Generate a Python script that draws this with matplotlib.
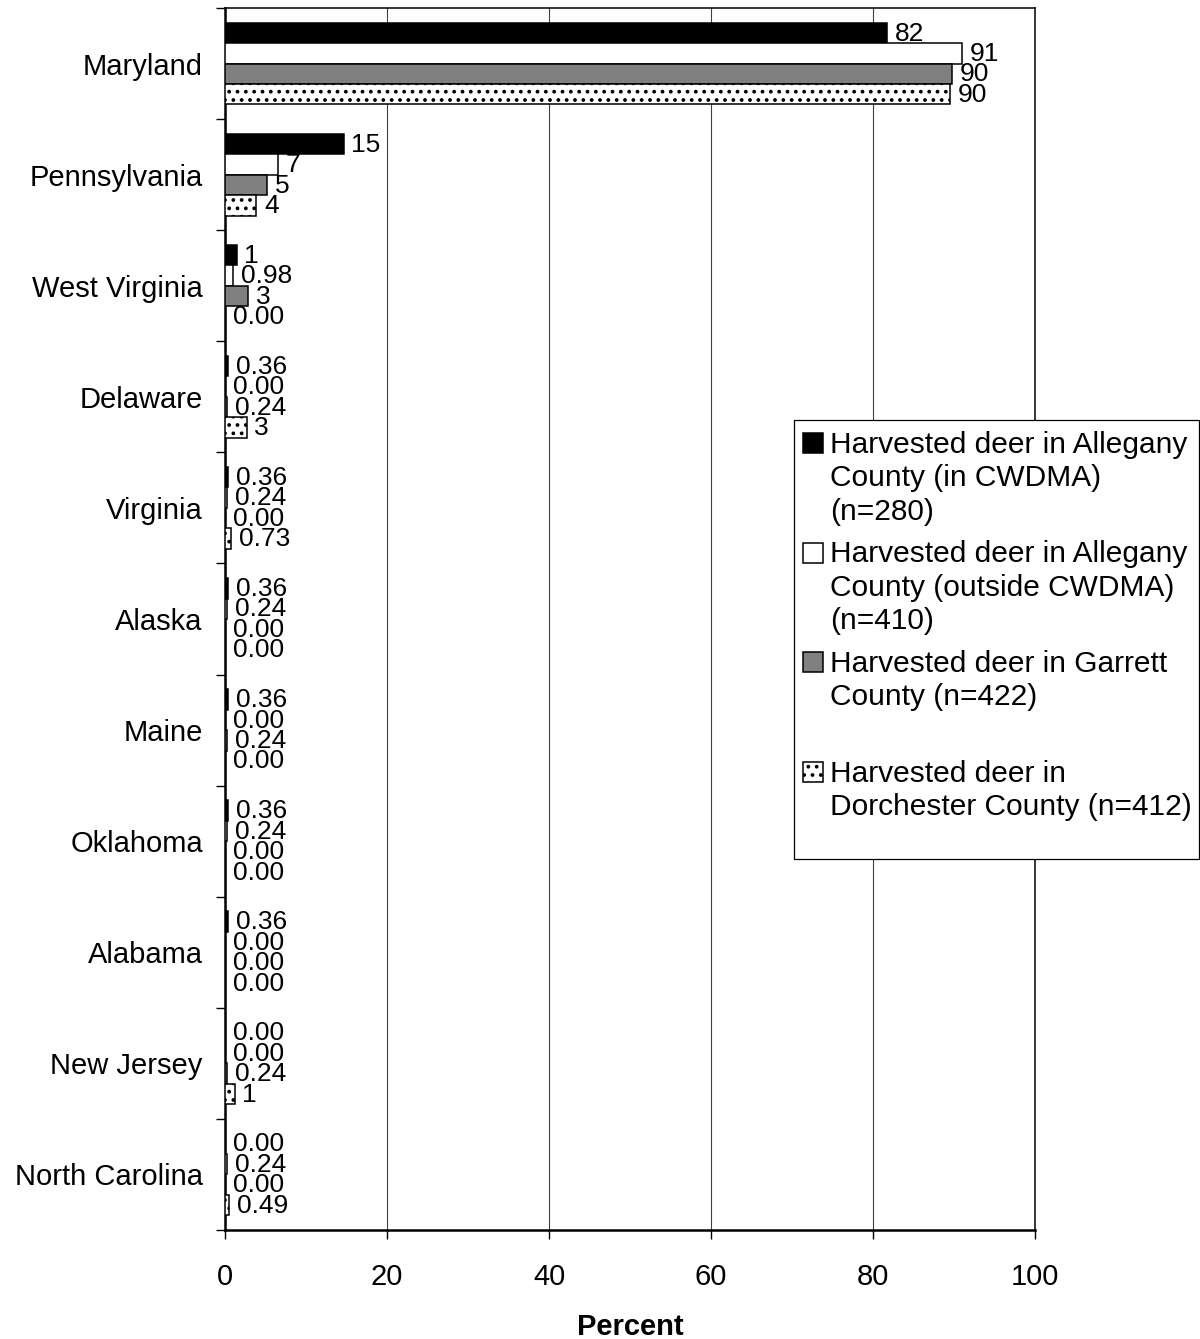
import numpy as np
import matplotlib
matplotlib.use('Agg')
import matplotlib.pyplot as plt
from matplotlib.patches import Rectangle

plt.rcParams['font.family'] = ['Liberation Sans', 'DejaVu Sans']
plt.rcParams['hatch.linewidth'] = 1.5

# States of residence of hunters, percent of harvested deer per sample
categories = ["Maryland", "Pennsylvania", "West Virginia", "Delaware", "Virginia",
              "Alaska", "Maine", "Oklahoma", "Alabama", "New Jersey", "North Carolina"]
allegany_in = [81.79, 14.64, 1.43, 0.36, 0.36, 0.36, 0.36, 0.36, 0.36, 0.00, 0.00]
allegany_out = [90.98, 6.59, 0.98, 0.00, 0.24, 0.24, 0.00, 0.24, 0.00, 0.00, 0.24]
garrett = [89.81, 5.21, 2.84, 0.24, 0.00, 0.00, 0.24, 0.00, 0.00, 0.24, 0.00]
dorchester = [89.56, 3.88, 0.00, 2.67, 0.73, 0.00, 0.00, 0.00, 0.00, 1.21, 0.49]

legend_labels = ["Harvested deer in Allegany\nCounty (in CWDMA)\n(n=280)",
                 "Harvested deer in Allegany\nCounty (outside CWDMA)\n(n=410)",
                 "Harvested deer in Garrett\nCounty (n=422)",
                 "Harvested deer in\nDorchester County (n=412)"]

W, H = 1200, 1339
fig = plt.figure(figsize=(W / 100, H / 100), dpi=100)
ax = fig.add_axes([225 / W, 1 - 1230 / H, 810 / W, 1222 / H])

series = [allegany_in, allegany_out, garrett, dorchester]
faces = ['black', 'white', '#808080', 'white']
hatches = [None, None, None, '..']
bar_h = 0.184
ypos = np.arange(len(categories))

for k, (vals, fc, hat) in enumerate(zip(series, faces, hatches)):
    pos = ypos + (k - 1.5) * bar_h
    ax.barh(pos, vals, height=bar_h, color=fc, edgecolor='black',
            linewidth=1.1, hatch=hat, zorder=3)
    for p, v in zip(pos, vals):
        lbl = f"{v:.0f}" if v >= 1 else f"{v:.2f}"
        ax.annotate(lbl, (v, p), xytext=(5.5, -0.5), textcoords='offset points',
                    ha='left', va='center', fontsize=19, zorder=4)

ax.set_xlim(0, 100)
ax.set_ylim(len(categories) - 0.5, -0.5)
ax.set_xticks(range(0, 101, 20))
ax.tick_params(axis='x', direction='out', length=6.5, width=1, labelsize=21, pad=17)
ax.set_yticks(ypos)
ax.set_yticklabels(categories, fontsize=21)
ax.tick_params(axis='y', which='major', length=0, pad=16)
ax.set_yticks(np.arange(len(categories) + 1) - 0.5, minor=True)
ax.tick_params(axis='y', which='minor', direction='out', length=6.5, width=1)

ax.xaxis.grid(True, color='#404040', linewidth=0.8)
ax.set_axisbelow(True)
for side in ['left', 'bottom']:
    ax.spines[side].set_linewidth(1.8)
for side in ['top', 'right']:
    ax.spines[side].set_linewidth(1.1)

ax.set_xlabel('Percent', fontsize=21, fontweight='bold', labelpad=16)

# legend box drawn by hand so the swatches sit on the first line of each entry
def fpos(x, y):
    return x / W, 1 - y / H

fig.add_artist(Rectangle(fpos(794, 859), 405 / W, 439 / H, transform=fig.transFigure,
                         facecolor='white', edgecolor='black', linewidth=0.9, zorder=5))
for k, (label, fc, hat) in enumerate(zip(legend_labels, faces, hatches)):
    base = 453 + k * 109.5
    fig.add_artist(Rectangle(fpos(803, base), 20 / W, 20 / H, transform=fig.transFigure,
                             facecolor=fc, edgecolor='black', linewidth=1.1,
                             hatch=hat, zorder=6))
    for j, line in enumerate(label.split('\n')):
        fx, fy = fpos(830, base + j * 33.3)
        fig.text(fx, fy, line, va='baseline', ha='left', fontsize=21.5, zorder=6)

fig.savefig('out.png', dpi=100)
